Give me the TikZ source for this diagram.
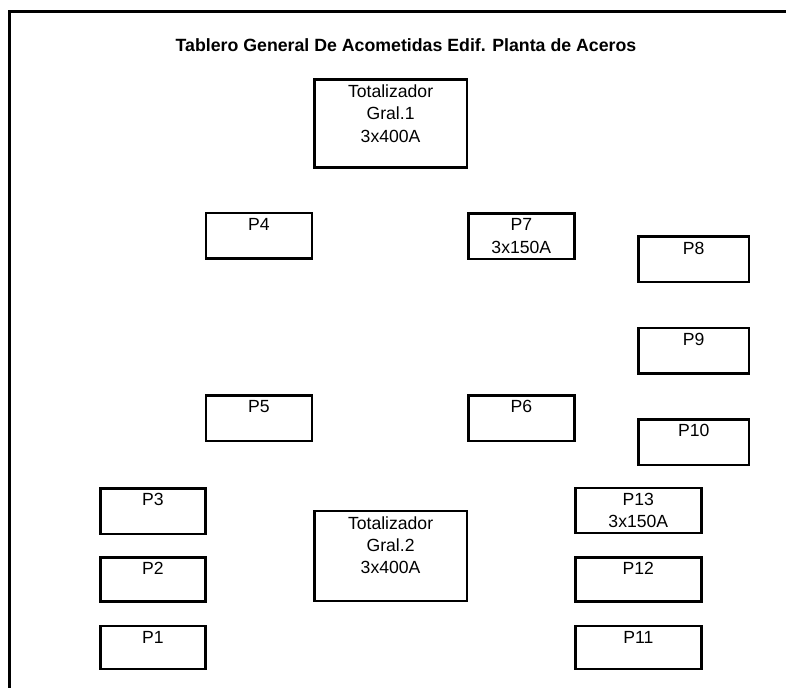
\documentclass[tikz,border=0pt]{standalone}
\usepackage{fontspec}
\setmainfont{Liberation Sans}
\usepackage{tikz}
\usepackage{xcolor}

\begin{document}
\begin{tikzpicture}%
  [x=0.75pt,y=-0.75pt]
  \tikzstyle{tab node}=[rectangle,draw,line width=2pt,anchor=north west,inner sep=0]
  \tikzstyle{small tab}=[tab node,minimum width=0.75*106pt,minimum height=0.75*45.5pt]
  \tikzstyle{wide tab}=[tab node,minimum width=0.75*126pt,minimum height=0.75*45pt]
  \tikzstyle{big tab}=[tab node,minimum width=0.75*152.5pt,minimum height=0.75*88pt]
  \tikzstyle{txt node}=[anchor=north,align=center,inner sep=0,
    font=\fontsize{13.2}{16.8}\selectfont]
  \useasboundingbox (0,0) rectangle (786,687);
  % marco
  \draw[line width=2.25pt] (790,11.5) -- (9.5,11.5) -- (9.5,690);
  \node(titulo)[anchor=base,inner sep=0,font=\bfseries\fontsize{13.3}{16}\selectfont]
    at (406,51) {Tablero General De Acometidas Edif. Planta de Aceros};
  % totalizadores
  \node(g1)[big tab] at (313,78) {};
  \node(g2)[big tab,minimum height=0.75*90pt] at (313,509.7) {};
  % tableros
  \node(p4)[small tab] at (204.5,211.5) {};
  \node(p5)[small tab] at (204.5,394) {};
  \node(p7)[small tab] at (467,212) {};
  \node(p6)[small tab] at (467,394) {};
  \node(p8)[small tab,minimum width=0.75*110.7pt] at (637,235.3) {};
  \node(p9)[small tab,minimum width=0.75*110.7pt] at (637,326.5) {};
  \node(p10)[small tab,minimum width=0.75*110.7pt] at (637,418) {};
  \node(p3)[small tab,minimum width=0.75*105pt] at (99,487) {};
  \node(p2)[small tab,minimum width=0.75*105pt,minimum height=0.75*44pt] at (99,556) {};
  \node(p1)[small tab,minimum width=0.75*105pt,minimum height=0.75*43pt] at (99,624.7) {};
  \node(p13)[wide tab] at (574,486.5) {};
  \node(p12)[wide tab,minimum height=0.75*44pt] at (574,556) {};
  \node(p11)[wide tab,minimum height=0.75*43pt] at (574,624.7) {};
  % textos
  \node(tg1)[txt node] at ([yshift=-4.8pt]g1.north) {Totalizador\\Gral.1\\3x400A};
  \node(tg2)[txt node] at ([yshift=-4.8pt]g2.north) {Totalizador\\Gral.2\\3x400A};
  \node(tp4)[txt node] at ([yshift=-4.8pt]p4.north) {P4};
  \node(tp5)[txt node] at ([yshift=-4.8pt]p5.north) {P5};
  \node(tp7)[txt node] at ([yshift=-4.8pt]p7.north) {P7\\3x150A};
  \node(tp6)[txt node] at ([yshift=-4.8pt]p6.north) {P6};
  \node(tp8)[txt node] at ([yshift=-4.8pt]p8.north) {P8};
  \node(tp9)[txt node] at ([yshift=-4.8pt]p9.north) {P9};
  \node(tp10)[txt node] at ([yshift=-4.8pt]p10.north) {P10};
  \node(tp3)[txt node] at ([yshift=-4.8pt]p3.north) {P3};
  \node(tp2)[txt node] at ([yshift=-4.8pt]p2.north) {P2};
  \node(tp1)[txt node] at ([yshift=-4.8pt]p1.north) {P1};
  \node(tp13)[txt node] at ([yshift=-4.8pt]p13.north) {P13\\3x150A};
  \node(tp12)[txt node] at ([yshift=-4.8pt]p12.north) {P12};
  \node(tp11)[txt node] at ([yshift=-4.8pt]p11.north) {P11};
\end{tikzpicture}
\end{document}
